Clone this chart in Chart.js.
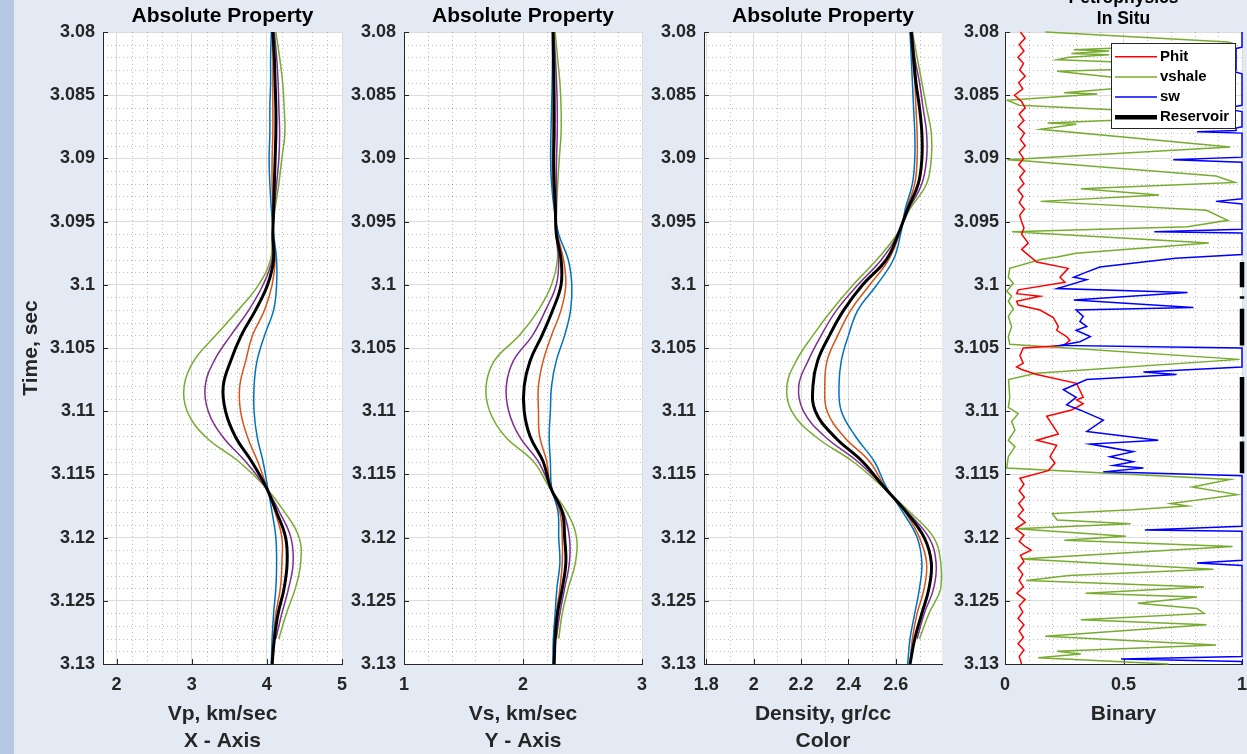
<!DOCTYPE html>
<html>
<head>
<meta charset="utf-8">
<script src="https://cdn.jsdelivr.net/npm/chart.js@4.4.1/dist/chart.umd.min.js"></script>
<style>
  html, body { margin: 0; padding: 0; }
  body { width: 1247px; height: 754px; background: #e4eaf4; position: relative; overflow: hidden; }
  #strip { position: absolute; left: 0; top: 0; width: 14px; height: 754px; background: #b7c8e5; }
  canvas { position: absolute; }
</style>
</head>
<body>
<div id="strip"></div>
<canvas id="chartVp" width="358" height="754" style="left:0;top:0"></canvas>
<canvas id="chartVs" width="308" height="754" style="left:350px;top:0"></canvas>
<canvas id="chartRho" width="308" height="754" style="left:650px;top:0"></canvas>
<canvas id="chartPetro" width="308" height="776" style="left:950px;top:-22px"></canvas>
<script>
// time samples (sec) for the three property panels
const times = [3.080, 3.082, 3.084, 3.086, 3.088, 3.090, 3.092, 3.094, 3.096, 3.098, 3.100, 3.102, 3.104,
               3.106, 3.108, 3.110, 3.112, 3.114, 3.116, 3.118, 3.120, 3.122, 3.124, 3.126, 3.128, 3.130];

// Vp, km/sec
const vpBlue   = [4.06,4.05,4.05,4.04,4.04,4.03,4.04,4.06,4.09,4.13,4.13,4.09,3.97,3.87,3.83,3.83,3.87,3.95,4.01,4.07,4.12,4.13,4.12,4.09,4.07,4.06];
const vpOrange = [4.07,4.08,4.08,4.08,4.08,4.07,4.07,4.08,4.08,4.11,4.07,3.97,3.81,3.72,3.64,3.65,3.74,3.88,4.00,4.11,4.20,4.20,4.18,4.12,4.09,4.08];
const vpBlack  = [4.08,4.10,4.11,4.12,4.12,4.11,4.10,4.09,4.08,4.09,4.01,3.85,3.66,3.52,3.42,3.45,3.58,3.80,3.99,4.13,4.25,4.27,4.23,4.15,4.10,4.07];
const vpPurple = [4.10,4.13,4.15,4.16,4.17,4.16,4.13,4.10,4.08,4.07,3.95,3.76,3.52,3.30,3.18,3.22,3.41,3.72,3.98,4.17,4.32,4.35,4.29,4.20,4.12,null];
const vpGreen  = [4.12,4.17,4.21,4.23,4.24,4.20,4.16,4.11,4.07,4.05,3.89,3.62,3.32,3.03,2.90,2.94,3.18,3.63,3.98,4.24,4.43,4.45,4.38,4.26,4.16,null];

// Vs, km/sec
const vsBlue   = [2.250,2.248,2.245,2.240,2.235,2.232,2.240,2.262,2.300,2.380,2.410,2.400,2.350,2.280,2.240,2.230,2.220,2.230,2.240,2.295,2.300,2.310,2.285,2.270,2.255,2.250];
const vsOrange = [2.250,2.251,2.252,2.252,2.250,2.246,2.250,2.268,2.290,2.340,2.360,2.320,2.240,2.170,2.130,2.130,2.140,2.200,2.230,2.310,2.330,2.330,2.310,2.280,2.262,2.258];
const vsBlack  = [2.252,2.256,2.260,2.262,2.262,2.258,2.262,2.272,2.280,2.320,2.320,2.250,2.160,2.060,2.010,2.010,2.060,2.170,2.230,2.330,2.350,2.360,2.330,2.290,2.270,2.262];
const vsPurple = [2.260,2.272,2.282,2.288,2.288,2.282,2.280,2.280,2.280,2.300,2.280,2.190,2.080,1.920,1.860,1.880,1.970,2.130,2.230,2.340,2.390,2.390,2.350,2.310,2.280,null];
const vsGreen  = [2.270,2.290,2.310,2.320,2.320,2.305,2.292,2.282,2.280,2.290,2.240,2.130,1.970,1.760,1.690,1.720,1.850,2.090,2.220,2.370,2.450,2.440,2.380,2.330,2.300,null];

// Density, gr/cc
const rhoBlue   = [2.660,2.665,2.670,2.675,2.680,2.680,2.670,2.640,2.620,2.590,2.520,2.440,2.400,2.370,2.360,2.370,2.430,2.510,2.560,2.630,2.690,2.710,2.700,2.680,2.660,2.650];
const rhoOrange = [2.665,2.670,2.680,2.685,2.690,2.690,2.680,2.645,2.615,2.570,2.490,2.410,2.355,2.310,2.300,2.310,2.380,2.490,2.555,2.640,2.700,2.730,2.720,2.690,2.670,2.660];
const rhoBlack  = [2.665,2.675,2.685,2.700,2.710,2.710,2.695,2.650,2.610,2.560,2.460,2.380,2.320,2.270,2.250,2.260,2.340,2.460,2.550,2.645,2.720,2.750,2.740,2.710,2.680,2.660];
const rhoPurple = [2.670,2.680,2.700,2.715,2.730,2.730,2.710,2.655,2.610,2.540,2.440,2.350,2.285,2.230,2.190,2.210,2.300,2.440,2.550,2.650,2.740,2.770,2.760,2.720,2.690,null];
const rhoGreen  = [2.670,2.690,2.710,2.730,2.750,2.750,2.730,2.660,2.605,2.520,2.420,2.330,2.250,2.180,2.140,2.160,2.260,2.420,2.545,2.660,2.760,2.790,2.790,2.740,2.700,null];

// Petrophysics logs
const phitTime = [3.0800,3.0805,3.0810,3.0815,3.0820,3.0825,3.0830,3.0835,3.0840,3.0845,3.0850,3.0855,3.0860,3.0865,3.0870,3.0875,
  3.0880,3.0885,3.0890,3.0895,3.0900,3.0905,3.0910,3.0915,3.0920,3.0925,3.0930,3.0935,3.0940,3.0945,3.0950,3.0955,
  3.0960,3.0967,3.0972,3.0982,3.0987,3.0994,3.0998,3.1004,3.1007,3.1009,3.1013,3.1016,3.1020,3.1026,3.1033,3.1036,
  3.1041,3.1044,3.1048,3.1050,3.1056,3.1062,3.1065,3.1067,3.1071,3.1078,3.1089,3.1091,3.1094,3.1099,3.1104,3.1108,
  3.1114,3.1118,3.1123,3.1127,3.1136,3.1141,3.1147,3.1153,3.1158,3.1163,3.1168,3.1173,3.1178,3.1183,3.1188,3.1193,
  3.1198,3.1203,3.1207,3.1210,3.1214,3.1219,3.1224,3.1229,3.1234,3.1239,3.1244,3.1249,3.1254,3.1259,3.1264,3.1269,
  3.1274,3.1279,3.1284,3.1289,3.1294,3.1300];
const phitVal = [0.065,0.085,0.060,0.080,0.055,0.078,0.062,0.085,0.058,0.075,0.040,0.070,0.085,0.060,0.080,0.055,
  0.082,0.065,0.085,0.060,0.078,0.058,0.083,0.062,0.080,0.055,0.076,0.060,0.082,0.062,0.070,0.080,
  0.070,0.098,0.070,0.134,0.267,0.232,0.253,0.056,0.049,0.148,0.049,0.056,0.148,0.204,0.225,0.218,
  0.260,0.274,0.246,0.077,0.063,0.077,0.049,0.070,0.134,0.302,0.330,0.302,0.330,0.281,0.176,0.190,
  0.211,0.225,0.134,0.218,0.190,0.211,0.183,0.063,0.080,0.060,0.082,0.058,0.078,0.055,0.085,0.045,
  0.080,0.060,0.085,0.110,0.065,0.080,0.055,0.075,0.060,0.078,0.050,0.085,0.060,0.075,0.055,0.080,
  0.060,0.078,0.055,0.080,0.060,0.070];

const vshTime = [3.0800,3.0808,3.0809,3.0814,3.0815,3.0817,3.0818,3.0820,3.0822,3.0827,3.0831,3.0841,3.0848,3.0849,3.0854,3.0858,
  3.0866,3.0872,3.0873,3.0877,3.0891,3.0901,3.0902,3.0914,3.0919,3.0924,3.0929,3.0934,3.0941,3.0949,3.0954,3.0958,
  3.0967,3.0975,3.0978,3.0980,3.0987,3.0994,3.0999,3.1005,3.1009,3.1013,3.1019,3.1025,3.1033,3.1041,3.1047,3.1059,
  3.1070,3.1075,3.1089,3.1097,3.1102,3.1108,3.1115,3.1123,3.1128,3.1136,3.1145,3.1154,3.1160,3.1166,3.1173,3.1175,
  3.1178,3.1181,3.1186,3.1189,3.1193,3.1199,3.1202,3.1207,3.1217,3.1225,3.1230,3.1234,3.1239,3.1244,3.1247,3.1252,
  3.1256,3.1260,3.1265,3.1269,3.1278,3.1285,3.1290,3.1292,3.1295,3.1300];
const vshVal = [0.17,0.94,0.96,0.29,0.44,0.28,0.44,0.27,0.22,0.95,0.22,0.71,0.25,0.39,0.01,0.06,
  0.96,0.18,0.30,0.15,0.95,0.01,0.09,0.89,0.97,0.32,0.65,0.15,0.85,0.94,0.77,0.03,
  0.86,0.30,0.22,0.15,0.02,0.014,0.035,0.007,0.028,0.014,0.035,0.014,0.028,0.014,0.02,0.99,
  0.13,0.015,0.02,0.014,0.056,0.028,0.042,0.014,0.042,0.014,0.007,0.95,0.79,0.98,0.70,0.77,
  0.54,0.20,0.22,0.53,0.05,0.51,0.25,0.96,0.07,0.88,0.27,0.09,0.84,0.34,0.81,0.56,
  0.81,0.84,0.32,0.85,0.17,0.89,0.22,0.32,0.14,0.69];

const swTime = [3.0800,3.0812,3.0813,3.0830,3.0831,3.0833,3.0858,3.0859,3.0862,3.0863,3.0875,3.0876,3.0878,3.0879,3.0880,
  3.0899,3.0901,3.0903,3.0932,3.0934,3.0936,3.0956,3.0958,3.0959,3.0976,3.0979,3.0986,3.0991,3.0994,3.0996,3.1003,
  3.1006,3.1012,3.1018,3.1020,3.1025,3.1029,3.1033,3.1036,3.1041,3.1045,3.1048,3.1050,3.1065,3.1069,3.1071,3.1075,
  3.1083,3.1089,3.1095,3.1099,3.1107,3.1116,3.1123,3.1126,3.1132,3.1136,3.1140,3.1143,3.1145,3.1148,3.1151,3.1191,
  3.1194,3.1195,3.1218,3.1220,3.1222,3.1294,3.1296,3.1298,3.1300];
const swVal = [1,1,0.975,0.975,0.96,1,1,0.97,0.97,1,1,0.975,0.975,0.81,1,
  1,0.71,1,1,0.89,1,1,0.63,1,1,0.72,0.40,0.33,0.29,0.345,0.22,
  0.77,0.29,0.795,0.30,0.33,0.316,0.345,0.30,0.36,0.316,0.232,1,1,0.584,0.724,0.345,
  0.246,0.30,0.26,0.316,0.415,0.345,0.647,0.359,0.541,0.443,0.541,0.457,0.584,0.415,1,1,
  0.59,1,1,0.81,1,1,0.49,1,1];

const resTime = [3.0982,3.1002,3.1005,3.1009,3.1011,3.1015,3.1019,3.1048,3.1060,3.1073,3.1120,3.1122,3.1124,3.1149];
const resVal  = [1,1,null,1,1,null,1,1,null,1,1,null,1,1];

// axis ticks
const yTicks = [3.08, 3.085, 3.09, 3.095, 3.1, 3.105, 3.11, 3.115, 3.12, 3.125, 3.13];
const vpTicks = [2, 3, 4, 5];
const vsTicks = [1, 2, 3];
const rhoTicks = [1.8, 2, 2.2, 2.4, 2.6];
const binTicks = [0, 0.5, 1];

const FONT = '"Liberation Sans", Arial, Helvetica, sans-serif';
Chart.defaults.font.family = FONT;
Chart.defaults.color = '#262626';

const fmt = v => String(+Number(v).toFixed(4));
const pts = (vals, ts) => vals.map((v, i) => ({ x: v, y: ts[i] }));

// white plot area, dotted minor grid and inward tick marks
const plotFrame = {
  id: 'plotFrame',
  beforeDraw(chart) {
    const { ctx, chartArea: a } = chart;
    ctx.save();
    ctx.fillStyle = '#ffffff';
    ctx.fillRect(a.left, a.top, a.width, a.height);
    ctx.restore();
  },
  beforeDatasetsDraw(chart, args, opts) {
    const { ctx, chartArea: a, scales: { x, y } } = chart;
    const isMajor = (sc, v) => sc.ticks.some(t => Math.abs(t.value - v) < 1e-7);
    ctx.save();
    ctx.beginPath();
    ctx.rect(a.left, a.top, a.width, a.height);
    ctx.clip();
    ctx.strokeStyle = 'rgba(0,0,0,0.25)';
    ctx.lineWidth = 1;
    ctx.setLineDash([1, 3]);
    ctx.beginPath();
    for (let k = Math.ceil(x.min / opts.xMinor - 1e-6); k * opts.xMinor <= x.max + 1e-9; k++) {
      const v = k * opts.xMinor;
      if (isMajor(x, v)) continue;
      const px = Math.round(x.getPixelForValue(v)) + 0.5;
      ctx.moveTo(px, a.top);
      ctx.lineTo(px, a.bottom);
    }
    for (let k = Math.ceil(y.min / opts.yMinor - 1e-6); k * opts.yMinor <= y.max + 1e-9; k++) {
      const v = k * opts.yMinor;
      if (isMajor(y, v)) continue;
      const py = Math.round(y.getPixelForValue(v)) + 0.5;
      ctx.moveTo(a.left, py);
      ctx.lineTo(a.right, py);
    }
    ctx.stroke();
    ctx.restore();

    ctx.save();
    ctx.strokeStyle = '#262626';
    ctx.lineWidth = 1;
    ctx.beginPath();
    x.ticks.forEach(t => {
      const px = Math.round(x.getPixelForValue(t.value)) + 0.5;
      ctx.moveTo(px, a.bottom);
      ctx.lineTo(px, a.bottom - 5);
    });
    y.ticks.forEach(t => {
      const py = Math.round(y.getPixelForValue(t.value)) + 0.5;
      ctx.moveTo(a.left, py);
      ctx.lineTo(a.left + 5, py);
    });
    ctx.stroke();
    ctx.restore();
  }
};

// boxed legend inside the top right corner
const boxLegend = {
  id: 'boxLegend',
  afterDraw(chart, args, opts) {
    if (!opts.show) return;
    const { ctx, chartArea: a } = chart;
    const w = 124, h = 85, rowH = 20.2;
    const x0 = Math.round(a.right - 7 - w), y0 = Math.round(a.top + 11);
    ctx.save();
    ctx.fillStyle = '#ffffff';
    ctx.fillRect(x0, y0, w, h);
    ctx.strokeStyle = '#262626';
    ctx.lineWidth = 1;
    ctx.strokeRect(x0 + 0.5, y0 + 0.5, w, h);
    ctx.font = 'bold 15px ' + FONT;
    ctx.textBaseline = 'middle';
    chart.data.datasets.forEach((d, i) => {
      const cy = y0 + 13.7 + i * rowH;
      ctx.strokeStyle = d.borderColor;
      ctx.lineWidth = d.borderWidth;
      ctx.beginPath();
      ctx.moveTo(x0 + 4, cy);
      ctx.lineTo(x0 + 46, cy);
      ctx.stroke();
      ctx.fillStyle = '#000000';
      ctx.fillText(d.label, x0 + 49, cy);
    });
    ctx.restore();
  }
};

function line(label, vals, ts, color, width, order, tension) {
  return {
    label: label,
    data: pts(vals, ts),
    showLine: true,
    borderColor: color,
    backgroundColor: color,
    borderWidth: width,
    pointRadius: 0,
    tension: tension,
    fill: false,
    clip: Math.ceil(width / 2) + 1,
    order: order
  };
}

function makePanel(id, cfg) {
  return new Chart(document.getElementById(id), {
    type: 'scatter',
    data: { datasets: cfg.datasets },
    options: {
      responsive: false,
      animation: false,
      events: [],
      layout: { padding: { left: 0, right: 16, top: 0, bottom: 0 } },
      plugins: {
        legend: { display: false },
        tooltip: { enabled: false },
        title: {
          display: true,
          text: cfg.title,
          fullSize: false,
          color: '#000000',
          font: { size: cfg.titleSize, weight: 'bold', lineHeight: 1.2 },
          padding: cfg.titlePad
        },
        plotFrame: { xMinor: cfg.xMinor, yMinor: 0.001 },
        boxLegend: { show: !!cfg.legend }
      },
      scales: {
        x: {
          type: 'linear',
          position: 'bottom',
          min: cfg.xMin,
          max: cfg.xMax,
          afterBuildTicks: ax => { ax.ticks = cfg.xTicks.map(v => ({ value: v })); },
          afterFit: ax => { ax.height = 90; },
          grid: { color: '#dcdcdc', lineWidth: 1, drawTicks: false },
          border: { display: true, color: '#262626', width: 1 },
          ticks: { callback: fmt, padding: 10, autoSkip: false, maxRotation: 0, color: '#262626',
                   font: { size: 18, weight: 'bold' } },
          title: { display: true, text: cfg.xTitle, color: '#262626',
                   font: { size: 21, weight: 'bold', lineHeight: 1.25 },
                   padding: { top: 0, bottom: cfg.xTitlePadBottom } }
        },
        y: {
          type: 'linear',
          position: 'left',
          reverse: true,
          min: 3.08,
          max: 3.13,
          afterBuildTicks: ax => { ax.ticks = yTicks.map(v => ({ value: v })); },
          afterFit: ax => { ax.width = cfg.yWidth; },
          grid: { color: '#dcdcdc', lineWidth: 1, drawTicks: false },
          border: { display: true, color: '#262626', width: 1 },
          ticks: { callback: fmt, padding: cfg.yPad, autoSkip: false, color: '#262626',
                   font: { size: 18, weight: 'bold' } },
          title: { display: !!cfg.yTitle, text: 'Time, sec', color: '#262626',
                   font: { size: 21, weight: 'bold', lineHeight: 1.2 },
                   padding: { top: 18.4, bottom: 0 } }
        }
      }
    },
    plugins: [plotFrame, boxLegend]
  });
}

const C = { blue: '#0072BD', orange: '#D95319', purple: '#7E2F8E', green: '#77AC30', black: '#000000' };

function propertySet(blue, orange, black, purple, green) {
  return [
    line('1', blue, times, C.blue, 1.5, 1, 0.4),
    line('2', orange, times, C.orange, 1.5, 1, 0.4),
    line('3', purple, times, C.purple, 1.5, 1, 0.4),
    line('4', green, times, C.green, 1.5, 1, 0.4),
    line('5', black, times, C.black, 3, 0, 0.4)
  ];
}

const titlePad = { top: 4, bottom: 2.8 };

makePanel('chartVp', {
  title: 'Absolute Property', titleSize: 21, titlePad: titlePad,
  xMin: 1.82, xMax: 5, xTicks: vpTicks, xMinor: 0.2,
  xTitle: ['Vp, km/sec', 'X - Axis'], xTitlePadBottom: 0,
  yWidth: 103, yPad: 8, yTitle: true,
  datasets: propertySet(vpBlue, vpOrange, vpBlack, vpPurple, vpGreen)
});

makePanel('chartVs', {
  title: 'Absolute Property', titleSize: 21, titlePad: titlePad,
  xMin: 1, xMax: 3, xTicks: vsTicks, xMinor: 0.2,
  xTitle: ['Vs, km/sec', 'Y - Axis'], xTitlePadBottom: 0,
  yWidth: 54, yPad: 8, yTitle: false,
  datasets: propertySet(vsBlue, vsOrange, vsBlack, vsPurple, vsGreen)
});

makePanel('chartRho', {
  title: 'Absolute Property', titleSize: 21, titlePad: titlePad,
  xMin: 1.79, xMax: 2.795, xTicks: rhoTicks, xMinor: 0.1,
  xTitle: ['Density, gr/cc', 'Color'], xTitlePadBottom: 0,
  yWidth: 54, yPad: 8, yTitle: false,
  datasets: propertySet(rhoBlue, rhoOrange, rhoBlack, rhoPurple, rhoGreen)
});

makePanel('chartPetro', {
  title: ['Petrophysics', 'In Situ'], titleSize: 17.5, titlePad: { top: 9.8, bottom: 2.2 },
  xMin: 0, xMax: 1, xTicks: binTicks, xMinor: 0.1,
  xTitle: 'Binary', xTitlePadBottom: 27,
  yWidth: 55, yPad: 6, yTitle: false, legend: true,
  datasets: [
    line('Phit', phitVal, phitTime, '#FF0000', 1.5, 2, 0),
    line('vshale', vshVal, vshTime, C.green, 1.5, 3, 0),
    line('sw', swVal, swTime, '#0000FF', 1.5, 1, 0),
    line('Reservoir', resVal, resTime, '#000000', 4.5, 0, 0)
  ]
});
</script>
</body>
</html>
